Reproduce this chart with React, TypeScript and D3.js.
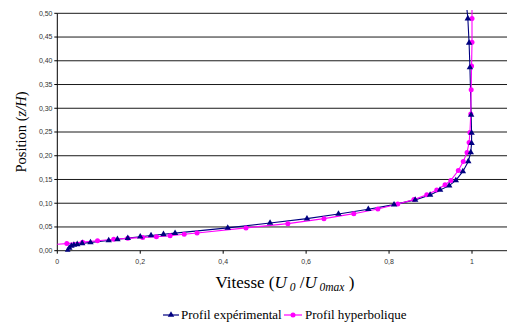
import React from "react";
import * as d3 from "d3";

// Profil expérimental (U0/U0max, z/H)
const expX = [0.025, 0.029, 0.034, 0.04, 0.048, 0.06, 0.08, 0.124, 0.145, 0.17, 0.2, 0.226, 0.256, 0.284, 0.411, 0.513, 0.602, 0.678, 0.75, 0.812, 0.863, 0.899, 0.923, 0.945, 0.961, 0.978, 0.991, 0.997, 0.999, 0.999, 0.998, 0.995, 0.993, 0.99, 0.987];
const expY = [0.0, 0.006, 0.0099, 0.012, 0.0135, 0.0155, 0.0175, 0.0215, 0.024, 0.0265, 0.0295, 0.032, 0.0346, 0.037, 0.048, 0.0584, 0.0675, 0.0774, 0.0873, 0.097, 0.107, 0.1175, 0.128, 0.137, 0.148, 0.167, 0.188, 0.207, 0.2266, 0.248, 0.286, 0.386, 0.4375, 0.489, 0.515];

// Profil hyperbolique
const hypX = [-0.01, 0.023, 0.061, 0.097, 0.136, 0.17, 0.206, 0.239, 0.272, 0.306, 0.337, 0.455, 0.556, 0.643, 0.715, 0.773, 0.821, 0.86, 0.891, 0.915, 0.935, 0.949, 0.967, 0.979, 0.988, 0.993, 0.995, 0.997, 0.998, 0.999, 1.0, 1.0, 1.0];
const hypY = [0.013, 0.015, 0.018, 0.021, 0.024, 0.026, 0.028, 0.0295, 0.0316, 0.0346, 0.0373, 0.048, 0.057, 0.0675, 0.078, 0.088, 0.0985, 0.1076, 0.118, 0.128, 0.139, 0.148, 0.169, 0.188, 0.207, 0.228, 0.249, 0.288, 0.339, 0.389, 0.439, 0.489, 0.515];

const yTicks = [0, 0.05, 0.1, 0.15, 0.2, 0.25, 0.3, 0.35, 0.4, 0.45, 0.5];
const xTicks = [0, 0.2, 0.4, 0.6, 0.8, 1];

const W = 507;
const H = 325;
const left = 57.3;
const top = 13.3;
const bottom = 250.7;

const x = d3.scaleLinear().domain([0, 1]).range([left, 472]);
const y = d3.scaleLinear().domain([0, 0.5]).range([bottom, top]);
const fmt = (v: number) => (v === 0 || v === 1 ? String(v) : d3.format(".1f")(v).replace(".", ","));
const fmtY = (v: number) => d3.format(".2f")(v).replace(".", ",");

const NAVY = "#000080";
const MAG = "#ff00ff";
const SERIF = "'Liberation Serif', 'Times New Roman', serif";
const SANS = "'Liberation Sans', Arial, sans-serif";

const line = d3.line<[number, number]>().x((d) => x(d[0])).y((d) => y(d[1]));
const tri = d3.symbol(d3.symbolTriangle, 18)();

export default function App() {
  const exp: [number, number][] = expX.map((v, i) => [v, expY[i]]);
  const hyp: [number, number][] = hypX.map((v, i) => [v, hypY[i]]);
  return (
    <svg width={W} height={H} style={{ position: "absolute", left: 0, top: 0, background: "#fff" }}>
      <defs>
        <clipPath id="plot">
          <rect x={left} y={10} width={W - left} height={bottom - 10 + 1} />
        </clipPath>
      </defs>
      {/* gridlines */}
      {yTicks.map((t) => (
        <line key={t} x1={left} x2={W} y1={y(t)} y2={y(t)} stroke="#1a1a1a" strokeWidth={1} />
      ))}
      {/* y axis */}
      <line x1={left} x2={left} y1={top} y2={bottom} stroke="#000" />
      {yTicks.map((t) => (
        <g key={"yt" + t}>
          <line x1={left - 3} x2={left} y1={y(t)} y2={y(t)} stroke="#000" />
          <text x={52.5} y={y(t)} dy="0.33em" textAnchor="end" style={{ fontFamily: SANS, fontSize: 7 }} fill="#333">
            {fmtY(t)}
          </text>
        </g>
      ))}
      {/* x axis ticks */}
      {xTicks.map((t) => (
        <g key={"xt" + t}>
          <line x1={x(t)} x2={x(t)} y1={bottom} y2={bottom + 3} stroke="#000" />
          <text x={x(t)} y={264} textAnchor="middle" style={{ fontFamily: SANS, fontSize: 7 }} fill="#333">
            {fmt(t)}
          </text>
        </g>
      ))}
      <g clipPath="url(#plot)">
        <path d={line(exp) || ""} fill="none" stroke={NAVY} strokeWidth={1.1} />
        <path d={line(hyp) || ""} fill="none" stroke={MAG} strokeWidth={1.1} />
        {hyp.map((d, i) => (
          <circle key={"h" + i} cx={x(d[0])} cy={y(d[1])} r={2.5} fill={MAG} />
        ))}
        {exp.map((d, i) => (
          <path key={"e" + i} d={tri || ""} transform={`translate(${x(d[0])},${y(d[1])})`} fill={NAVY} />
        ))}
      </g>
      {/* axis titles */}
      <text
        transform={`translate(26,${(top + bottom) / 2}) rotate(-90)`}
        textAnchor="middle"
        style={{ fontFamily: SERIF, fontSize: 14.5 }}
        fill="#000"
      >
        Position (<tspan style={{ fontStyle: "italic" }}>z/H</tspan>)
      </text>
      <text x={285} y={288} textAnchor="middle" style={{ fontFamily: SERIF, fontSize: 17 }} fill="#000">
        Vitesse (<tspan style={{ fontStyle: "italic" }}>U</tspan>
        <tspan style={{ fontStyle: "italic", fontSize: 11.5 }} dy={3}> 0</tspan>
        <tspan dy={-3}> /</tspan>
        <tspan style={{ fontStyle: "italic" }}>U</tspan>
        <tspan style={{ fontStyle: "italic", fontSize: 11.5 }} dy={3}> 0max</tspan>
        <tspan dy={-3}> )</tspan>
      </text>
      {/* legend */}
      <g style={{ fontFamily: SERIF, fontSize: 13 }} fill="#000">
        <line x1={163} x2={179} y1={315} y2={315} stroke={NAVY} strokeWidth={1.2} />
        <path d={tri || ""} transform="translate(171,315)" fill={NAVY} />
        <text x={181} y={315} dy="0.33em">Profil expérimental</text>
        <line x1={284} x2={302} y1={315} y2={315} stroke={MAG} strokeWidth={1.2} />
        <circle cx={293} cy={315} r={2.5} fill={MAG} />
        <text x={305} y={315} dy="0.33em">Profil hyperbolique</text>
      </g>
    </svg>
  );
}
